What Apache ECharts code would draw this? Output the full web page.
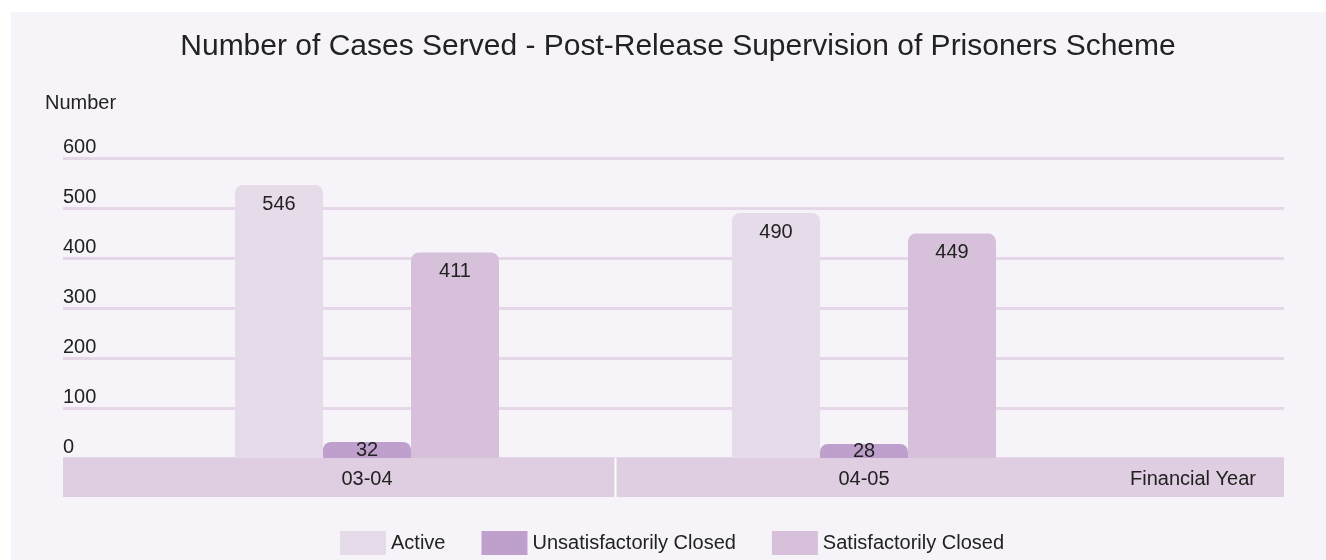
<!DOCTYPE html>
<html>
<head>
<meta charset="utf-8">
<script src="https://cdn.jsdelivr.net/npm/echarts@6/dist/echarts.min.js"></script>
<style>
  html, body { margin: 0; padding: 0; background: #ffffff; }
  #chart { width: 1326px; height: 560px; }
</style>
</head>
<body>
<div id="chart"></div>
<script>
// data
var years = ["03-04", "04-05"];
var seriesNames = ["Active", "Unsatisfactorily Closed", "Satisfactorily Closed"];
var active = [546, 490];
var unsatisfactorilyClosed = [32, 28];
var satisfactorilyClosed = [411, 449];
var yTicks = [0, 100, 200, 300, 400, 500, 600];

var colors = ["#e6dbe9", "#bfa0cc", "#d7c0da"];
var textColor = "#222222";
var font = "Liberation Sans, Arial, Helvetica, sans-serif";

var myChart = echarts.init(document.getElementById("chart"));

// small bars get their label centred, tall ones at the top
function barData(values) {
  return values.map(function (v) {
    return {
      value: v,
      label: { position: v < 60 ? "inside" : "insideTop", distance: 9 }
    };
  });
}

function makeSeries(name, values, color) {
  return {
    name: name,
    type: "bar",
    xAxisIndex: 0,
    yAxisIndex: 0,
    barWidth: 88,
    barGap: "0%",
    itemStyle: { color: color, borderRadius: [8, 8, 0, 0] },
    label: {
      show: true,
      color: textColor,
      fontSize: 20,
      fontFamily: font
    },
    data: barData(values)
  };
}

var panel = {
  type: "rect",
  z: -100,
  silent: true,
  shape: { x: 11, y: 12, width: 1315, height: 548 },
  style: { fill: "#f6f4f9" }
};

var option = {
  backgroundColor: "#ffffff",
  animation: false,
  textStyle: { fontFamily: font },
  title: [
    {
      text: "Number of Cases Served - Post-Release Supervision of Prisoners Scheme",
      left: 673,
      textAlign: "center",
      top: 27,
      textStyle: { fontSize: 30, fontWeight: "normal", color: textColor, fontFamily: font }
    },
    {
      text: "Number",
      left: 40,
      top: 88,
      textStyle: { fontSize: 20, fontWeight: "normal", color: textColor, fontFamily: font }
    },
    {
      text: "Financial Year",
      left: 1251,
      textAlign: "right",
      top: 464,
      textStyle: { fontSize: 20, fontWeight: "normal", color: textColor, fontFamily: font }
    }
  ],
  legend: {
    left: 335,
    top: 526,
    itemWidth: 46,
    itemHeight: 24,
    itemGap: 36,
    icon: "rect",
    textStyle: { fontSize: 20, color: textColor, fontFamily: font },
    data: seriesNames
  },
  grid: [
    { left: 118.5, width: 994, top: 158, height: 300 },
    { left: 63, width: 1221, top: 158, height: 300 }
  ],
  xAxis: [
    {
      type: "category",
      gridIndex: 0,
      data: years,
      axisLine: { show: false },
      axisTick: { show: false },
      axisLabel: { margin: 11, fontSize: 20, color: textColor, fontFamily: font },
      z: 5
    },
    {
      type: "value",
      gridIndex: 1,
      min: 0,
      max: 1,
      offset: 19.5,
      axisLine: { show: true, onZero: false, lineStyle: { color: "#dfcde1", width: 39, cap: "butt" } },
      axisTick: { show: false },
      axisLabel: { show: false },
      splitLine: { show: false },
      z: 1
    }
  ],
  yAxis: [
    { type: "value", gridIndex: 0, min: 0, max: 600, interval: 100, show: false },
    {
      type: "value",
      gridIndex: 1,
      min: 0,
      max: 600,
      interval: 100,
      axisLine: { show: false },
      axisTick: { show: false },
      splitLine: { lineStyle: { color: "#e5d6e8", width: 3 } },
      axisLabel: {
        inside: true,
        margin: 0,
        align: "left",
        verticalAlign: "bottom",
        padding: [0, 0, 1, 0],
        fontSize: 20,
        color: textColor,
        fontFamily: font,
        formatter: function (v) { return yTicks.indexOf(v) >= 0 ? String(v) : ""; }
      }
    }
  ],
  graphic: [panel],
  series: [
    makeSeries(seriesNames[0], active, colors[0]),
    makeSeries(seriesNames[1], unsatisfactorilyClosed, colors[1]),
    makeSeries(seriesNames[2], satisfactorilyClosed, colors[2])
  ]
};

myChart.setOption(option);

// white divider in the axis band between the two years
var c0 = myChart.convertToPixel({ xAxisIndex: 0 }, years[0]);
var c1 = myChart.convertToPixel({ xAxisIndex: 0 }, years[1]);
var bandTop = myChart.convertToPixel({ yAxisIndex: 1 }, 0);
myChart.setOption({
  graphic: [
    panel,
    {
      type: "rect",
      z: 10,
      silent: true,
      shape: { x: (c0 + c1) / 2 - 1, y: bandTop, width: 2, height: 39 },
      style: { fill: "#ffffff" }
    }
  ]
});
</script>
</body>
</html>
